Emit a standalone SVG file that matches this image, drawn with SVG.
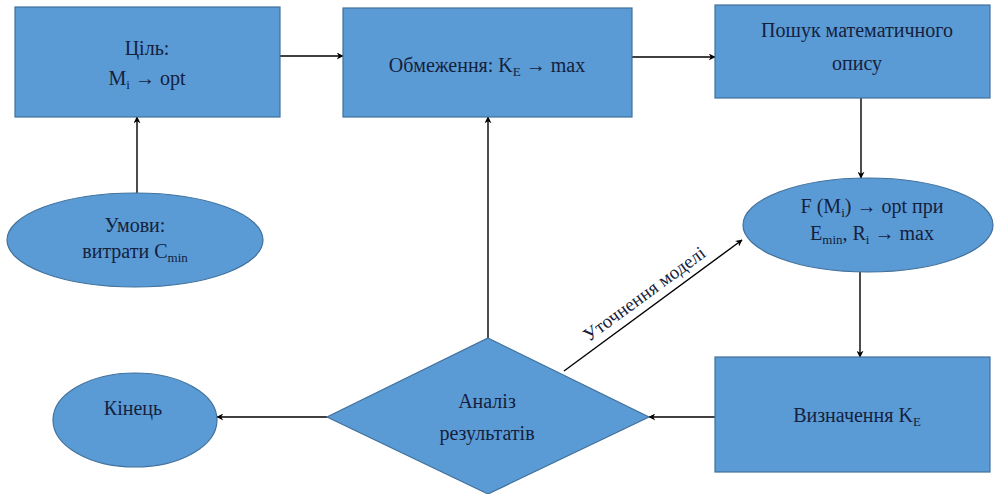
<svg xmlns="http://www.w3.org/2000/svg" width="996" height="494" viewBox="0 0 996 494">
<defs>
<marker id="ah" viewBox="0 0 10 10" refX="9" refY="5" markerWidth="7" markerHeight="7" orient="auto" markerUnits="userSpaceOnUse">
<path d="M0,0 L10,5 L0,10 L3,5 z" fill="#000" stroke="none"/>
</marker>
</defs>
<rect width="996" height="494" fill="#fff"/>
<g fill="#5b9bd5" stroke="#41719c" stroke-width="1.2" font-size="20" text-anchor="middle">
<g id="connectors" stroke="#000" stroke-width="1.4" fill="none" marker-end="url(#ah)">
<line x1="280" y1="56" x2="343" y2="56"/>
<line x1="632" y1="57" x2="715" y2="57"/>
<line x1="861" y1="98" x2="861" y2="178"/>
<line x1="860" y1="272" x2="860" y2="357"/>
<line x1="715" y1="417" x2="649" y2="417"/>
<line x1="327" y1="417" x2="217" y2="417"/>
<line x1="488" y1="338" x2="488" y2="117"/>
<line x1="137" y1="193" x2="137" y2="117"/>
<line x1="564" y1="371" x2="742" y2="240"/>
<text font-family="Liberation Serif" fill="#14213d" stroke="none" transform="translate(648,299) rotate(-36.3)" font-size="19">Уточнення моделі</text>
</g>
<g id="goal">
<rect x="15" y="7" width="265" height="110"/>
<text font-family="Liberation Serif" fill="#14213d" stroke="none" x="147" y="55">Ціль:</text>
<text font-family="Liberation Serif" fill="#14213d" stroke="none" x="147" y="85">M<tspan font-size="13" dy="4">i</tspan><tspan dy="-4"> → opt</tspan></text>
</g>
<g id="constraints">
<rect x="343" y="8" width="289" height="109"/>
<text font-family="Liberation Serif" fill="#14213d" stroke="none" x="487" y="72">Обмеження: K<tspan font-size="13" dy="4">E</tspan><tspan dy="-4"> → max</tspan></text>
</g>
<g id="search">
<rect x="715" y="5" width="275" height="93"/>
<text font-family="Liberation Serif" fill="#14213d" stroke="none" x="857" y="37">Пошук математичного</text>
<text font-family="Liberation Serif" fill="#14213d" stroke="none" x="857" y="70">опису</text>
</g>
<g id="conditions">
<ellipse cx="135" cy="240" rx="128" ry="47"/>
<text font-family="Liberation Serif" fill="#14213d" stroke="none" x="135" y="232">Умови:</text>
<text font-family="Liberation Serif" fill="#14213d" stroke="none" x="135" y="258">витрати C<tspan font-size="13" dy="4">min</tspan></text>
</g>
<g id="function">
<ellipse cx="868" cy="225" rx="125" ry="47"/>
<text font-family="Liberation Serif" fill="#14213d" stroke="none" x="872" y="213">F (M<tspan font-size="13" dy="4">i</tspan><tspan dy="-4">) → opt при</tspan></text>
<text font-family="Liberation Serif" fill="#14213d" stroke="none" x="872" y="240">E<tspan font-size="13" dy="4">min</tspan><tspan dy="-4">, R</tspan><tspan font-size="13" dy="4">i</tspan><tspan dy="-4"> → max</tspan></text>
</g>
<g id="determine">
<rect x="715" y="357" width="275" height="115"/>
<text font-family="Liberation Serif" fill="#14213d" stroke="none" x="857" y="422">Визначення K<tspan font-size="13" dy="4">E</tspan></text>
</g>
<g id="analysis">
<polygon points="488,338 649,417 488,494 327,417"/>
<text font-family="Liberation Serif" fill="#14213d" stroke="none" x="487" y="408">Аналіз</text>
<text font-family="Liberation Serif" fill="#14213d" stroke="none" x="487" y="440">результатів</text>
</g>
<g id="end">
<ellipse cx="135" cy="420" rx="82" ry="47"/>
<text font-family="Liberation Serif" fill="#14213d" stroke="none" x="133" y="415">Кінець</text>
</g>
</g>
</svg>
